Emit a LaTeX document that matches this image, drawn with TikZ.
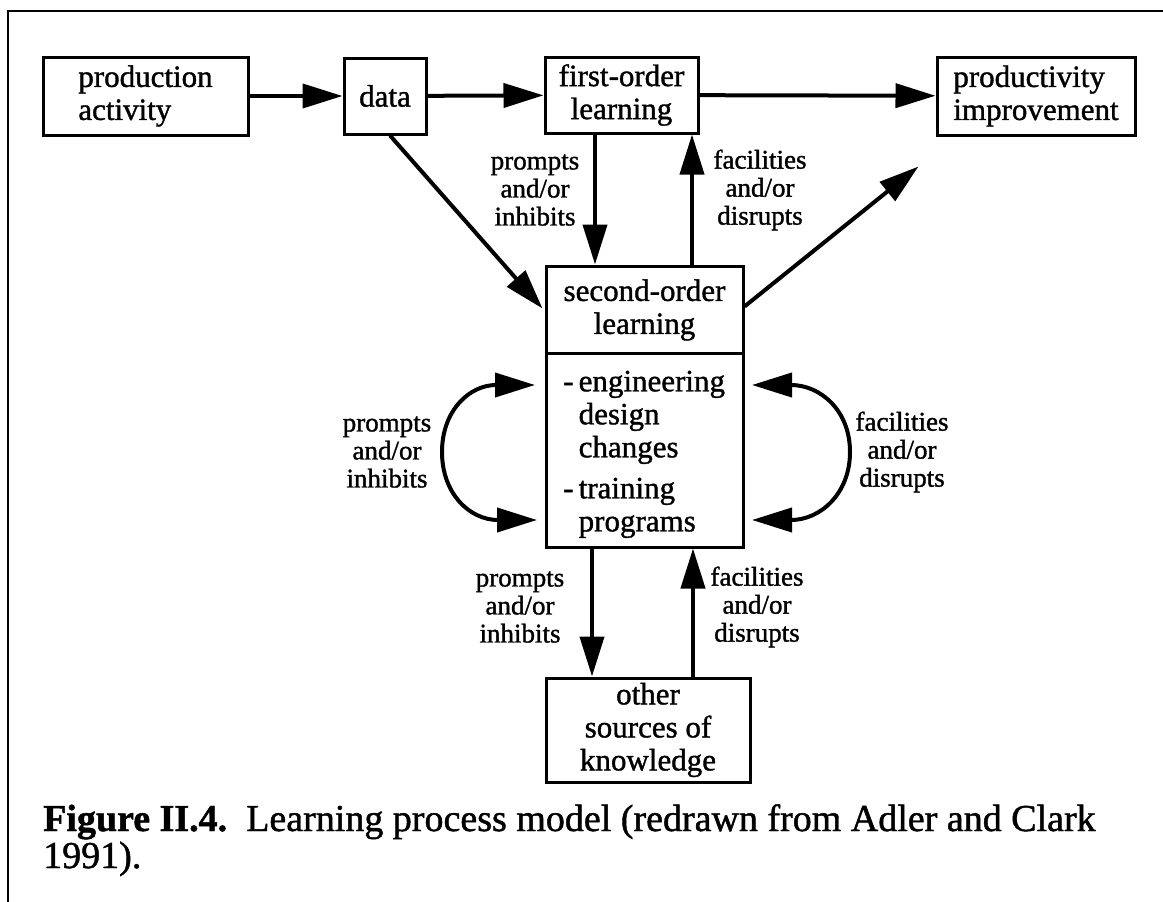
\documentclass[tikz,border=0pt]{standalone}
\usepackage{fontspec}
\setmainfont{Liberation Serif}
\newfontfamily\heavyserif{Liberation Serif}[FakeBold=1.2]
\usetikzlibrary{arrows.meta,calc}
\newcommand\bxfont{\heavyserif\fontsize{31}{33}\selectfont}
\newcommand\lbfont{\heavyserif\fontsize{27}{28}\selectfont}
\newcommand\capfont{\heavyserif\fontsize{38}{37}\selectfont}
\begin{document}
\begin{tikzpicture}[x=1pt,y=-1pt,
  box/.style={draw, line width=3pt, inner sep=0pt, font=\bxfont},
  lbl/.style={align=center, inner sep=0pt, font=\lbfont},
  flow/.style={line width=4pt, -{Triangle[length=40pt,width=24pt]}},
  loop/.style={line width=4pt, {Triangle[length=40pt,width=24pt]}-{Triangle[length=40pt,width=24pt]}}]
\useasboundingbox (0,0) rectangle (1163,902);

% frame: top and left rules only
\draw[line width=2.5pt] (8,902) -- (8,11) -- (1163,11);

% boxes
\node[box, align=left, minimum width=205pt, minimum height=78pt] (prod) at (145.5,96) {production\\activity};
\node[box, minimum width=82pt, minimum height=76pt] (data) at (385,96) {data};
\node[box, align=center, minimum width=153pt, minimum height=76pt] (first) at (621.5,95) {first-order\\learning};
\node[box, align=left, minimum width=198pt, minimum height=78pt] (impr) at (1036,96) {productivity\\improvement};
\node[box, minimum width=197pt, minimum height=281pt] (sec) at (644.5,406.5) {};
\node[box, align=center, minimum width=204pt, minimum height=104pt] (other) at (648,730) {other\\sources of\\knowledge};

% second-order box: title, divider, list
\node[align=center, inner sep=0pt, font=\bxfont] (sectitle) at (644.5,310) {second-order\\learning};
\draw[line width=3pt] ($(sec.north west)+(0,89)$) -- ($(sec.north east)+(0,89)$);
\node[anchor=north west, inner sep=0pt, font=\bxfont] (seclist) at (563,368)
  {\begin{tabular}{@{}l@{\,}l@{}}-&engineering\\&design\\&changes\\[8pt]-&training\\&programs\end{tabular}};

% top row flow
\draw[flow] (prod) -- (data);
\draw[flow] (data) -- (first);
\draw[flow] (first) -- (impr);

% diagonals
\coordinate (dstart) at ($(data.south)+(5,0)$);
\coordinate (dend) at ($(sec.north west)+(-2,44)$);
\draw[flow] (dstart) -- (dend);
\coordinate (istart) at ($(sec.north east)+(0,42)$);
\coordinate (iend) at ($(impr.south west)+(-17,30)$);
\draw[flow] (istart) -- (iend);

% vertical links
\coordinate (xa) at (595,0);
\coordinate (xb) at (692,0);
\coordinate (xc) at (592,0);
\coordinate (xd) at (693,0);
\draw[flow] (first.south -| xa) -- (sec.north -| xa);
\draw[flow] (sec.north -| xb) -- (first.south -| xb);
\draw[flow] (sec.south -| xc) -- (other.north -| xc);
\draw[flow] (other.north -| xd) -- (sec.south -| xd);

% side loops
\coordinate (lt) at (535,385);
\coordinate (lb) at (537,520);
\coordinate (rt) at (752,385);
\coordinate (rb) at (752,520);
\draw[loop] (lt) .. controls (470,385) and (442,410) .. (442,452) .. controls (442,494) and (470,520) .. (lb);
\draw[loop] (rt) .. controls (820,385) and (850,410) .. (850,452) .. controls (850,494) and (820,520) .. (rb);

% labels
\node[lbl] (p1) at (535,190) {prompts\\and/or\\inhibits};
\node[lbl] (f1) at (760,190) {facilities\\and/or\\disrupts};
\node[lbl] (p2) at (387,452) {prompts\\and/or\\inhibits};
\node[lbl] (f2) at (902,452) {facilities\\and/or\\disrupts};
\node[lbl] (p3) at (520,607) {prompts\\and/or\\inhibits};
\node[lbl] (f3) at (757,607) {facilities\\and/or\\disrupts};

% caption
\node[anchor=base west, inner sep=0pt, font=\capfont] (cap1) at (43,831)
  {\textbf{Figure II.4.}\ \ Learning process model (redrawn from Adler and Clark};
\node[anchor=base west, inner sep=0pt, font=\capfont] (cap2) at (43,868) {1991).};
\end{tikzpicture}
\end{document}
